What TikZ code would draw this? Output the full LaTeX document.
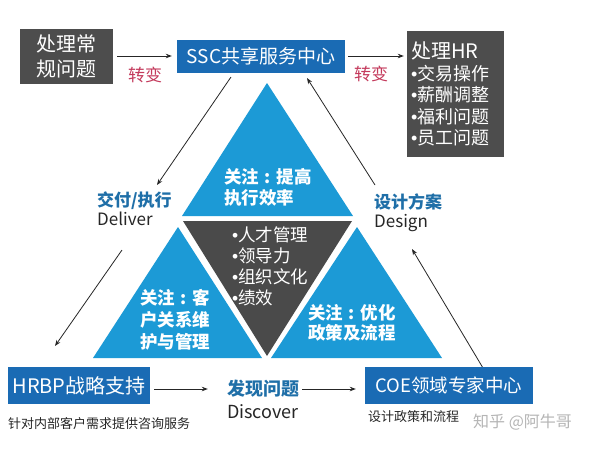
\documentclass[tikz,border=0pt]{standalone}
\usepackage{fontspec}
\setmainfont{Noto Sans CJK SC}
\newfontfamily\bulletfont{Liberation Sans}
\newcommand\mybul{{\bulletfont •}}
\newcommand\mycolon{\makebox[1em][c]{:}}
\usetikzlibrary{arrows.meta}
\definecolor{greybox}{HTML}{4D4D4D}
\definecolor{boxblue}{HTML}{1A6BB4}
\definecolor{triblue}{HTML}{1C9AD6}
\definecolor{darktri}{HTML}{4A4A4A}
\definecolor{labelblue}{HTML}{1F6FA8}
\definecolor{redc}{HTML}{C43A5C}
\definecolor{wm}{HTML}{B5B5B5}
\tikzset{
  arr/.style={draw=black!85, line width=0.8pt, -{Stealth[length=6pt,width=4.5pt]}},
  greyb/.style={fill=greybox, text=white, inner sep=0pt},
  blueb/.style={fill=boxblue, text=white, inner sep=0pt},
  tritext/.style={text=white, inner sep=0pt, align=left, font=\bfseries\fontsize{17.5}{21}\selectfont},
  redlbl/.style={text=redc, font=\fontsize{17}{20}\selectfont},
  steplbl/.style={anchor=west, align=left, inner sep=0pt, text=black!85, font=\fontsize{17}{19}\selectfont},
  note/.style={anchor=west, inner sep=0pt, text=black!85, font=\fontsize{13}{15}\selectfont}
}
\begin{document}
\begin{tikzpicture}[x=1pt,y=-1pt]
\useasboundingbox[fill=white] (0,0) rectangle (598,451);
% triangles
\fill[triblue] (267,83) -- (182,216) -- (353,216) -- cycle;
\fill[darktri] (183,221) -- (352,221) -- (267,356) -- cycle;
\fill[triblue] (178,227) -- (93,358) -- (262,358) -- cycle;
\fill[triblue] (357,227) -- (271,358) -- (442,358) -- cycle;

% top row
\node[greyb, minimum width=93pt, minimum height=55pt, align=center, font=\fontsize{20}{25}\selectfont] (q) at (66.5,56) {处理常\\规问题};
\node[blueb, minimum width=168pt, minimum height=33pt, font=\fontsize{19}{23}\selectfont] (ssc) at (261,56) {SSC共享服务中心};
\node[greyb, minimum width=97pt, minimum height=126pt, align=left, text width=89pt, font=\fontsize{18}{21.5}\selectfont] (hr) at (455.5,94) {{\fontsize{20}{24}\selectfont 处理HR}\\\mybul 交易操作\\\mybul 薪酬调整\\\mybul 福利问题\\\mybul 员工问题};

\draw[arr, shorten <=4pt, shorten >=5pt] (q.east) -- (ssc.west);
\draw[arr, shorten <=3pt, shorten >=3pt] (ssc.east) -- (ssc.east -| hr.west);
\node[redlbl] (t1) at (145,75) {转变};
\node[redlbl] (t2) at (371,74) {转变};

% triangle texts
\node[tritext] (ttop) at (268,187.5) {关注\mycolon 提高\\执行效率};
\node[tritext, font=\bfseries\fontsize{17.5}{22}\selectfont] (tleft) at (175,320) {关注\mycolon 客\\户关系维\\护与管理};
\node[tritext, font=\bfseries\fontsize{17.5}{20.5}\selectfont] (tright) at (352,323) {关注\mycolon 优化\\政策及流程};
\node[text=white, align=left, anchor=west, inner sep=0pt, font=\fontsize{17.5}{21}\selectfont] (tmid) at (232,266.5) {\mybul 人才管理\\\mybul 领导力\\\mybul 组织文化\\\mybul 绩效};

% side labels
\node[steplbl] (deliver) at (97,209) {\textcolor{labelblue}{\bfseries 交付/执行}\\Deliver};
\node[steplbl] (design) at (374,213) {\textcolor{labelblue}{\bfseries 设计方案}\\Design};

% diagonal arrows
\coordinate (a1) at (231,77); \coordinate (a2) at (157,185);
\coordinate (b1) at (122,250); \coordinate (b2) at (55,346);
\coordinate (c1) at (483,368); \coordinate (c2) at (412,249);
\coordinate (d1) at (375,185); \coordinate (d2) at (307,78);
\draw[arr] (a1) -- (a2);
\draw[arr] (b1) -- (b2);
\draw[arr] (c1) -- (c2);
\draw[arr] (d1) -- (d2);

% bottom row
\node[blueb, minimum width=142pt, minimum height=37pt, font=\fontsize{20}{24}\selectfont] (hrbp) at (79,385.5) {HRBP战略支持};
\node[blueb, minimum width=168pt, minimum height=37pt, font=\fontsize{18.5}{22}\selectfont] (coe) at (449,385.5) {COE领域专家中心};
\node[text=labelblue, inner sep=1pt, font=\bfseries\fontsize{18}{22}\selectfont] (fx) at (263,389) {发现问题};
\node[text=black!85, inner sep=1pt, font=\fontsize{18}{22}\selectfont] (dv) at (263,412) {Discover};
\draw[arr, shorten <=4pt, shorten >=18pt] (hrbp.east |- fx.west) -- (fx.west);
\draw[arr, shorten <=2pt, shorten >=9pt] (fx.east) -- (fx.east -| coe.west);

\node[note] (hrbpnote) at (8,424) {针对内部客户需求提供咨询服务};
\node[note] (coenote) at (368,417) {设计政策和流程};
\node[anchor=west, inner sep=0pt, text=wm, font=\fontsize{16}{18}\selectfont] (wmk) at (473,422) {知乎 @阿牛哥};
\end{tikzpicture}
\end{document}
